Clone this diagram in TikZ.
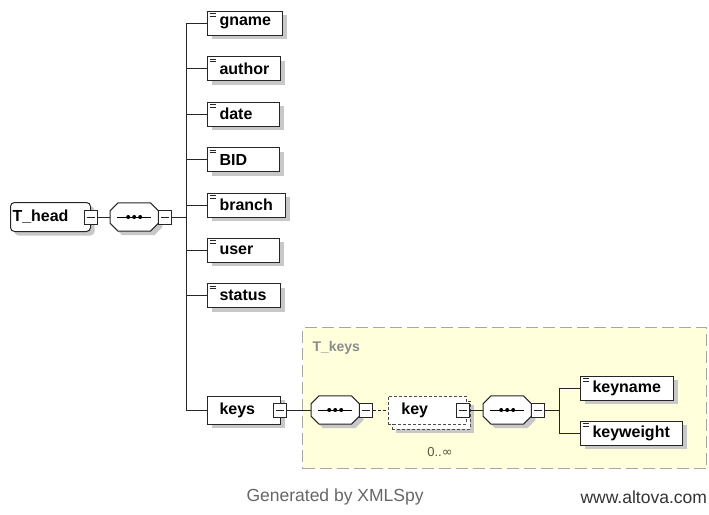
\documentclass[tikz,border=0pt]{standalone}
\usepackage{fontspec}
\setmainfont{Liberation Sans}
\newfontfamily\symfont{DejaVu Sans}
\usetikzlibrary{calc}

\definecolor{panelfill}{HTML}{FFFFDC}
\definecolor{panelline}{HTML}{A8A8A0}
\definecolor{shadowgray}{HTML}{C8C8C8}
\definecolor{occurs}{HTML}{55553A}

\tikzset{
  x=1pt, y=-1pt,
  wire/.style={line width=1pt, draw=black!85},
  dropgray/.style={preaction={fill=shadowgray, draw=none, transform canvas={xshift=4pt, yshift=-4pt}}},
  lbl/.style={font=\fontsize{16}{18}\selectfont\bfseries},
  % simple element: box with the small "=" icon in its top-left corner
  elem/.style={lbl, draw=black!85, line width=1pt, fill=white, dropgray,
    minimum height=24pt, text width=#1, align=left, inner xsep=0pt, inner ysep=0pt,
    anchor=west, execute at begin node={\hspace*{12pt}},
    path picture={
      \draw[line width=0.7pt] ([shift={(2pt,-2.5pt)}]path picture bounding box.north west) -- ++(6,0);
      \draw[line width=0.7pt] ([shift={(2pt,-5pt)}]path picture bounding box.north west) -- ++(6,0);
    }},
  elem/.default=72pt,
  % complex element without icon
  celem/.style={lbl, draw=black!85, line width=1pt, fill=white, dropgray,
    minimum height=28pt, text width=#1, align=left, inner sep=0pt, anchor=west},
  % sequence compositor: placeholder node, outline drawn by \seqoutline
  seqnode/.style={minimum width=48pt, minimum height=28pt, inner sep=0pt, anchor=west},
  % expand/collapse box
  minusbox/.style={draw=black!85, line width=1pt, fill=white,
    minimum width=13pt, minimum height=14pt, inner sep=0pt,
    path picture={
      \draw[line width=0.8pt] ([xshift=2.5pt]path picture bounding box.west) -- ([xshift=-2.5pt]path picture bounding box.east);
    }},
}

% octagon outline of a sequence compositor around node #1
\newcommand\seqoutline[1]{%
  \path[draw=black!85, line width=1pt, fill=white, dropgray]
    ([xshift=8pt]#1.north west) -- ([xshift=-8pt]#1.north east)
    -- ([yshift=-8pt]#1.north east) -- ([yshift=8pt]#1.south east)
    -- ([xshift=-8pt]#1.south east) -- ([xshift=8pt]#1.south west)
    -- ([yshift=8pt]#1.south west) -- ([yshift=-8pt]#1.north west) -- cycle;
  \draw[line width=0.9pt] ([xshift=7pt]#1.west) -- ([xshift=-7pt]#1.east);
  \foreach \dx in {-6,0,6}
    \fill ([xshift=\dx pt]#1.center) circle (2pt);
}

\begin{document}
\begin{tikzpicture}
\useasboundingbox (0,0) rectangle (709,514);

% ---------- T_keys complex type panel ----------
\node[draw=panelline, fill=panelfill, line width=1pt, dash pattern=on 12pt off 5pt,
      minimum width=404pt, minimum height=141pt, anchor=north west, inner sep=0pt]
      (panel) at (302,327) {};
\node[font=\fontsize{14}{16}\selectfont\bfseries, text=black!45, anchor=west] (tkeys) at (309,348) {T\_keys};

% ---------- root element ----------
\node[celem=80pt, rounded corners=4pt, minimum height=29pt] (thead) at (10,217)
  {\hspace*{2pt}T\_head};
\node[minusbox] (thm) at (thead.east) {};

% ---------- top sequence ----------
\node[seqnode] (seq1) at (110,217) {};
\seqoutline{seq1}
\node[minusbox, anchor=west] (s1m) at (seq1.east) {};
\draw[wire] (thm.east) -- (seq1.west);

% ---------- children of the sequence ----------
\node[elem=75pt] (gname)  at (207,23)  {gname};
\node[elem=73pt] (author) at (207,68.5){author};
\node[elem] (date)   at (207,114) {date};
\node[elem] (bid)    at (207,159.5){BID};
\node[elem=78pt] (branch) at (207,205) {branch};
\node[elem] (user)   at (207,250) {user};
\node[elem=73pt] (status) at (207,295.5){status};
\node[celem=73pt] (keys) at (207,410) {\hspace*{12pt}keys};
\node[minusbox] (keysm) at ([xshift=-1pt]keys.east) {};

\coordinate (bus) at (186,217);
\draw[wire] (s1m.east) -- (bus);
\draw[wire] (bus |- gname.west) -- (bus |- keys.west);
\foreach \n in {gname,author,date,bid,branch,user,status,keys}
  \draw[wire] (bus |- \n.west) -- (\n.west);

% ---------- inside T_keys ----------
\node[seqnode] (seq2) at (311,410) {};
\seqoutline{seq2}
\node[minusbox, anchor=west] (s2m) at (seq2.east) {};
\draw[wire] (keysm.east) -- (seq2.west);

% repeated optional element "key": stacked dashed outlines
\node[draw=black!70, line width=0.9pt, dash pattern=on 3pt off 2pt, fill=white, dropgray,
      minimum width=78pt, minimum height=28pt, anchor=west] (keyback) at (392,415) {};
\node[lbl, draw=black!70, line width=0.9pt, dash pattern=on 3pt off 2pt, fill=white,
      text width=78pt, align=left, minimum height=28pt, inner sep=0pt, anchor=west] (key) at (388,410)
  {\hspace*{13pt}key};
\node[minusbox] (keym) at ([xshift=-4pt]key.east) {};
\draw[wire, dash pattern=on 3pt off 2pt] (s2m.east) -- (key.west);
\node[font=\fontsize{13}{15}\selectfont, text=occurs] (occ) at (440,452) {0..{\symfont ∞}};

\node[seqnode] (seq3) at (483,410) {};
\seqoutline{seq3}
\node[minusbox, anchor=west] (s3m) at (seq3.east) {};
\draw[wire] (keym.east) -- (seq3.west);

\node[elem=93pt] (keyname)   at (580,388) {keyname};
\node[elem=102pt] (keyweight) at (580,433) {keyweight};

\coordinate (bus2) at (559,410);
\draw[wire] (s3m.east) -- (bus2);
\draw[wire] (bus2 |- keyname.west) -- (bus2 |- keyweight.west);
\draw[wire] (bus2 |- keyname.west) -- (keyname.west);
\draw[wire] (bus2 |- keyweight.west) -- (keyweight.west);

% ---------- footer ----------
\node[font=\fontsize{17.5}{20}\selectfont, text=black!60, anchor=west] (gen) at (243,497) {Generated by XMLSpy};
\node[font=\fontsize{17.5}{20}\selectfont, text=black!80, anchor=west] (site) at (577,497) {www.altova.com};
\end{tikzpicture}
\end{document}
